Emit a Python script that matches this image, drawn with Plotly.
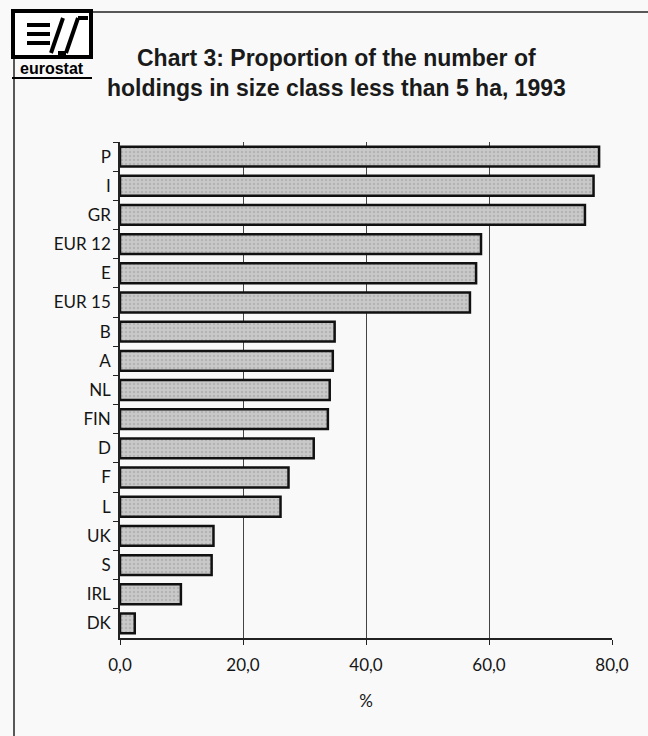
import plotly.graph_objects as go

# Share of holdings under 5 ha, 1993 (%)
countries = ["P", "I", "GR", "EUR 12", "E", "EUR 15", "B", "A", "NL", "FIN",
             "D", "F", "L", "UK", "S", "IRL", "DK"]
shares = [77.9, 77.0, 75.6, 58.7, 57.9, 56.9, 34.9, 34.6, 34.1, 33.8,
          31.5, 27.4, 26.1, 15.2, 14.9, 9.9, 2.4]
x_ticks = [0, 20, 40, 60, 80]
x_tick_text = ["0,0", "20,0", "40,0", "60,0", "80,0"]
title_lines = ["Chart 3: Proportion of the number of",
               "holdings in size class less than 5 ha, 1993"]

W, H = 648, 736
L, R, T, B = 120, 36, 142, 98
PW, PH = W - L - R, H - T - B


def px(x):
    return (x - L) / PW


def py(y):
    return (H - B - y) / PH


fig = go.Figure()
fig.add_trace(go.Bar(
    x=shares, y=countries, orientation="h",
    marker=dict(
        color="#c4c4c4",
        line=dict(color="#111111", width=2.5),
        pattern=dict(shape=".", fgcolor="#9c9c9c", bgcolor="#c9c9c9",
                     size=4, solidity=0.3),
    ),
    width=0.68,
    hoverinfo="x+y",
))

shapes = []
# page frame: left rule and top rule
shapes.append(dict(type="line", xref="paper", yref="paper",
                   x0=px(14), x1=px(14), y0=py(57), y1=py(736),
                   line=dict(color="#222", width=1.5)))
shapes.append(dict(type="line", xref="paper", yref="paper",
                   x0=px(92), x1=px(648), y0=py(12), y1=py(12),
                   line=dict(color="#222", width=1.5)))
# eurostat logo box
shapes.append(dict(type="rect", xref="paper", yref="paper",
                   x0=px(13), x1=px(91), y0=py(11), y1=py(57),
                   line=dict(color="#000", width=4), fillcolor="white"))
logo_lines = [
    ((27, 25), (50, 25)), ((27, 34), (50, 34)), ((27, 43), (50, 43)),
    ((51, 53), (63, 18)),
    ((58, 53), (66, 53)), ((66, 53), (78, 18)), ((78, 18), (88, 18)),
]
for (xa, ya), (xb, yb) in logo_lines:
    shapes.append(dict(type="line", xref="paper", yref="paper",
                       x0=px(xa), x1=px(xb), y0=py(ya), y1=py(yb),
                       line=dict(color="#000", width=4)))
shapes.append(dict(type="line", xref="paper", yref="paper",
                   x0=px(12), x1=px(92), y0=py(78), y1=py(78),
                   line=dict(color="#000", width=2)))

annotations = [
    dict(text="<b>eurostat</b>", xref="paper", yref="paper",
         x=px(52), y=py(69), xanchor="center", yanchor="middle",
         showarrow=False,
         font=dict(family="Liberation Sans, Arial", size=16, color="#000")),
]
for line_text, yc in zip(title_lines, [58, 88]):
    annotations.append(dict(
        text="<b>" + line_text + "</b>",
        xref="paper", yref="paper", x=px(336), y=py(yc),
        xanchor="center", yanchor="middle", showarrow=False,
        font=dict(family="Liberation Sans, Arial", size=23, color="#1a1a1a")))

fig.update_layout(
    width=W, height=H,
    margin=dict(l=L, r=R, t=T, b=B, pad=0),
    paper_bgcolor="#f9f9f9", plot_bgcolor="#f9f9f9",
    showlegend=False,
    shapes=shapes, annotations=annotations,
    font=dict(family="Lato, Open Sans, sans-serif", size=17, color="#151515"),
    xaxis=dict(
        range=[0, 80], tickvals=x_ticks, ticktext=x_tick_text,
        showgrid=True, gridcolor="#444", gridwidth=1,
        showline=True, linecolor="#222", linewidth=1.5,
        ticks="outside", ticklen=5, tickcolor="#222",
        zeroline=False, mirror=False,
        title=dict(text="%", standoff=21, font=dict(size=17)),
        tickfont=dict(size=17), ticklabelstandoff=6,
        fixedrange=True,
    ),
    yaxis=dict(
        autorange="reversed", type="category",
        showgrid=False, showline=True, linecolor="#222", linewidth=1.5,
        ticks="outside", ticklen=5, tickcolor="#222", tickson="boundaries",
        tickfont=dict(size=17), ticklabelstandoff=4,
        fixedrange=True,
    ),
)

fig.write_html("out.html")
